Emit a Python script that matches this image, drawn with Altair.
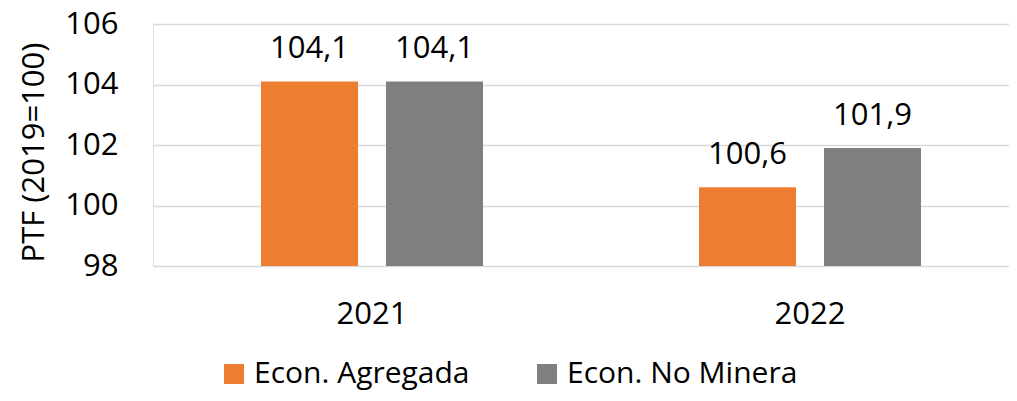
import altair as alt
import pandas as pd

years = ["2021", "2021", "2022", "2022"]
series = ["Econ. Agregada", "Econ. No Minera", "Econ. Agregada", "Econ. No Minera"]
values = [104.1, 104.1, 100.6, 101.9]
series_order = ["Econ. Agregada", "Econ. No Minera"]
colors = ["#ED7D31", "#7F7F7F"]
y_ticks = [98, 100, 102, 104, 106]

df = pd.DataFrame({"year": years, "series": series, "value": values})
df["label"] = [f"{v:.1f}".replace(".", ",") for v in values]
df["base"] = 98

FONT = "Open Sans"
FS = 31

x = alt.X("year:N", title=None, sort=["2021", "2022"],
          scale=alt.Scale(range=[0, 876], paddingInner=0, paddingOuter=0),
          axis=alt.Axis(labelAngle=0, labelFontSize=FS, labelFont=FONT, labelColor="#000000",
                        ticks=False, domain=False, labelPadding=33, grid=False))
xo = alt.XOffset("series:N", sort=series_order,
                 scale=alt.Scale(paddingInner=0.224, paddingOuter=0.864))
y = alt.Y("value:Q", title="PTF (2019=100)",
          scale=alt.Scale(domain=[98, 106], zero=False, nice=False),
          axis=alt.Axis(values=y_ticks, labelFontSize=FS, labelFont=FONT, labelColor="#000000",
                        ticks=False, domain=False, labelPadding=35,
                        gridColor="#d9d9d9", gridWidth=1.5,
                        titleFontSize=FS, titleFont=FONT, titleFontWeight="normal",
                        titleColor="#000000", titleAngle=270, titleX=-119, titleY=128,
                        titleAlign="center", titleBaseline="middle"))

bars = alt.Chart(df).mark_bar().encode(
    x=x, xOffset=xo, y=y, y2=alt.Y2("base:Q"),
    color=alt.Color("series:N", sort=series_order,
                    scale=alt.Scale(domain=series_order, range=colors),
                    legend=alt.Legend(title=None, orient="none", legendX=66, legendY=335,
                                      direction="horizontal", symbolType="square",
                                      symbolSize=400, symbolStrokeWidth=0,
                                      labelFontSize=30, labelFont=FONT, labelColor="#000000",
                                      labelLimit=0, labelOffset=5, columnPadding=62)),
)

labels = alt.Chart(df).mark_text(font=FONT, fontSize=FS, color="#000000",
                                 baseline="alphabetic", dy=-23).encode(
    x=x, xOffset=xo, y=alt.Y("value:Q"), text="label:N")

chart = (bars + labels).properties(
    width=856, height=242,
    autosize=alt.AutoSizeParams(type="none"),
    padding={"left": 145, "top": 16, "right": 0, "bottom": 127},
).configure_view(stroke=None).configure(background="white")

chart.save("out.html", embed_options={"renderer": "svg", "actions": False})
